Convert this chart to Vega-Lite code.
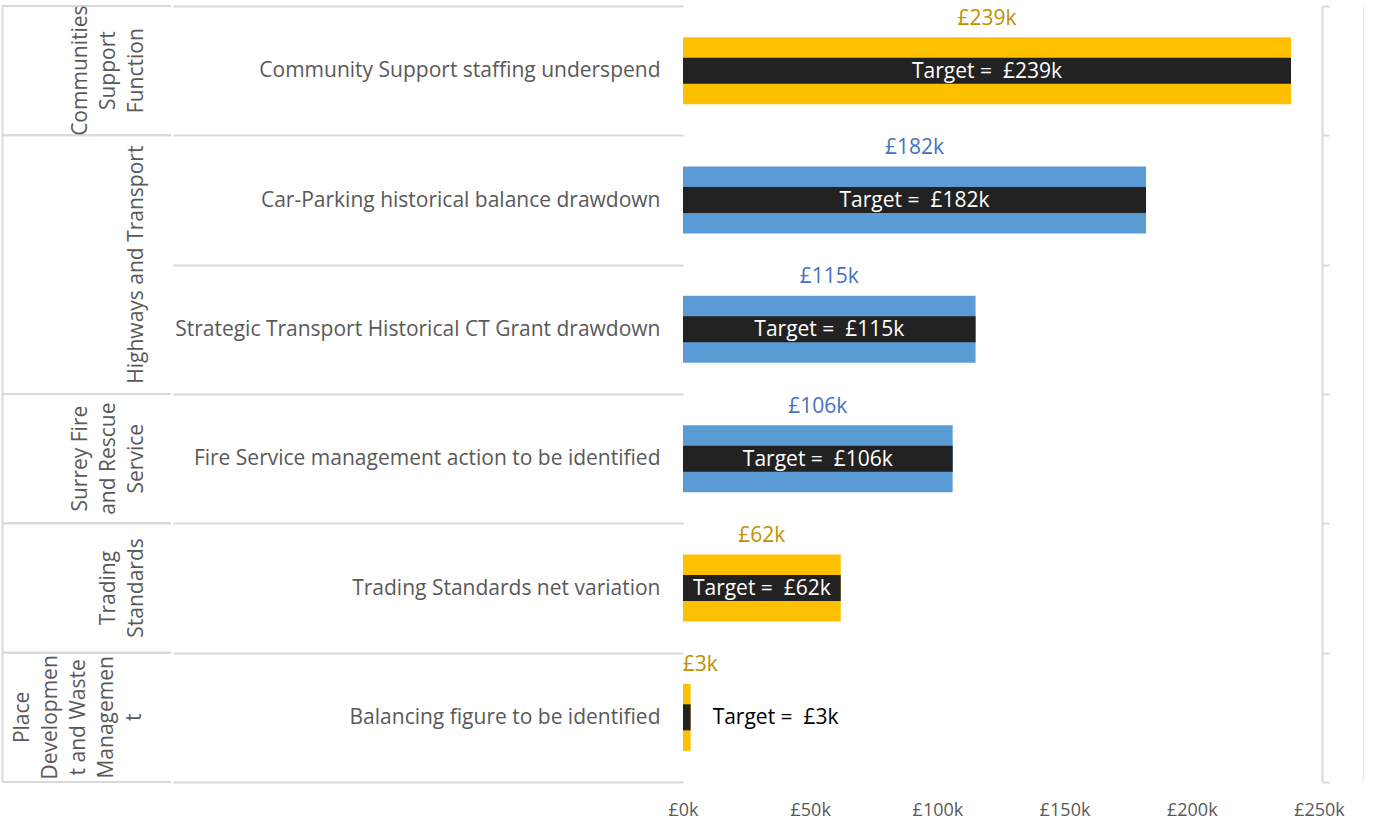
{
  "$schema": "https://vega.github.io/schema/vega-lite/v6.json",
  "padding": {"left": 1, "top": -5, "right": 0, "bottom": 0},
  "background": "white",
  "spacing": 0,
  "config": {
    "font": "Open Sans",
    "view": {"stroke": null}
  },
  "datasets": {
    "rows": [
      {"group": "Communities Support Function", "item": "Community Support staffing underspend", "value": 239000, "target": 239000, "status": "Amber"},
      {"group": "Highways and Transport", "item": "Car-Parking historical balance drawdown", "value": 182000, "target": 182000, "status": "Blue"},
      {"group": "Highways and Transport", "item": "Strategic Transport Historical CT Grant drawdown", "value": 115000, "target": 115000, "status": "Blue"},
      {"group": "Surrey Fire and Rescue Service", "item": "Fire Service management action to be identified", "value": 106000, "target": 106000, "status": "Blue"},
      {"group": "Trading Standards", "item": "Trading Standards net variation", "value": 62000, "target": 62000, "status": "Amber"},
      {"group": "Place Development and Waste Management", "item": "Balancing figure to be identified", "value": 3000, "target": 3000, "status": "Amber"}
    ],
    "groups": [
      {"key": "C", "group": "Communities\nSupport\nFunction", "first": "Community Support staffing underspend", "last": "Community Support staffing underspend"},
      {"key": "H", "group": "Highways and Transport", "first": "Car-Parking historical balance drawdown", "last": "Strategic Transport Historical CT Grant drawdown"},
      {"key": "S", "group": "Surrey Fire\nand Rescue\nService", "first": "Fire Service management action to be identified", "last": "Fire Service management action to be identified"},
      {"key": "T", "group": "Trading\nStandards", "first": "Trading Standards net variation", "last": "Trading Standards net variation"},
      {"key": "P", "group": "Place\nDevelopmen\nt and Waste\nManagemen\nt", "first": "Balancing figure to be identified", "last": "Balancing figure to be identified"}
    ]
  },
  "hconcat": [
    {
      "width": 169,
      "height": 776,
      "data": {"name": "groups"},
      "layer": [
        {
          "mark": {"type": "rule", "color": "#D9D9D9", "strokeWidth": 2},
          "encoding": {
            "y": {"field": "first", "type": "nominal", "bandPosition": 0,
              "scale": {"domain": ["Community Support staffing underspend", "Car-Parking historical balance drawdown", "Strategic Transport Historical CT Grant drawdown", "Fire Service management action to be identified", "Trading Standards net variation", "Balancing figure to be identified"], "paddingInner": 0, "paddingOuter": 0},
              "axis": {"title": null, "labels": false, "ticks": false, "grid": false, "domain": true, "domainColor": "#D9D9D9", "domainWidth": 2, "minExtent": 0}}
          }
        },
        {
          "mark": {"type": "rule", "color": "#D9D9D9", "strokeWidth": 2},
          "encoding": {
            "y": {"field": "last", "type": "nominal", "bandPosition": 1,
              "axis": {"title": null, "labels": false, "ticks": false, "grid": false, "domain": true, "domainColor": "#D9D9D9", "domainWidth": 2, "minExtent": 0}}
          }
        },
        {
          "transform": [{"filter": "datum.key === 'C' || datum.key === 'S'"}],
          "mark": {"type": "text", "angle": 270, "align": "center", "baseline": "alphabetic", "dy": 0.5, "fontSize": 21, "lineHeight": 28, "lineBreak": "\n", "color": "#595959", "clip": true},
          "encoding": {
            "y": {"field": "first", "type": "nominal", "bandPosition": 0.5,
              "axis": {"title": null, "labels": false, "ticks": false, "grid": false, "domain": true, "domainColor": "#D9D9D9", "domainWidth": 2, "minExtent": 0}},
            "text": {"field": "group", "type": "nominal"}
          }
        },
        {
          "transform": [{"filter": "datum.key === 'T'"}],
          "mark": {"type": "text", "angle": 270, "align": "center", "baseline": "alphabetic", "dy": 28, "fontSize": 21, "lineHeight": 28, "lineBreak": "\n", "color": "#595959", "clip": true},
          "encoding": {
            "y": {"field": "first", "type": "nominal", "bandPosition": 0.5,
              "axis": {"title": null, "labels": false, "ticks": false, "grid": false, "domain": true, "domainColor": "#D9D9D9", "domainWidth": 2, "minExtent": 0}},
            "text": {"field": "group", "type": "nominal"}
          }
        },
        {
          "transform": [{"filter": "datum.key === 'P'"}],
          "mark": {"type": "text", "angle": 270, "align": "center", "baseline": "alphabetic", "dy": -58, "fontSize": 21, "lineHeight": 28, "lineBreak": "\n", "color": "#595959", "clip": true},
          "encoding": {
            "y": {"field": "first", "type": "nominal", "bandPosition": 0.5,
              "axis": {"title": null, "labels": false, "ticks": false, "grid": false, "domain": true, "domainColor": "#D9D9D9", "domainWidth": 2, "minExtent": 0}},
            "text": {"field": "group", "type": "nominal"}
          }
        },
        {
          "transform": [{"filter": "datum.key === 'H'"}],
          "mark": {"type": "text", "angle": 270, "align": "center", "baseline": "alphabetic", "dy": 56, "fontSize": 21, "lineHeight": 28, "lineBreak": "\n", "color": "#595959", "clip": true},
          "encoding": {
            "y": {"field": "last", "type": "nominal", "bandPosition": 0,
              "axis": {"title": null, "labels": false, "ticks": false, "grid": false, "domain": true, "domainColor": "#D9D9D9", "domainWidth": 2, "minExtent": 0}},
            "text": {"field": "group", "type": "nominal"}
          }
        }
      ]
    },
    {
      "width": 636,
      "height": 776,
      "data": {"name": "rows"},
      "transform": [
        {"calculate": "'£' + format(datum.value, '~s')", "as": "value_label"},
        {"calculate": "'Target =\u00a0 £' + format(datum.target, '~s')", "as": "target_label"}
      ],
      "resolve": {"scale": {"x": "independent"}, "axis": {"y": "independent", "x": "independent"}},
      "layer": [
        {
          "mark": {"type": "bar", "size": 67},
          "encoding": {
            "y": {"field": "item", "type": "nominal", "sort": null,
              "scale": {"paddingInner": 0, "paddingOuter": 0},
              "axis": {"title": null, "orient": "left", "domain": false, "grid": false, "ticks": true, "tickBand": "extent", "tickSize": 510, "tickColor": "#D9D9D9", "tickWidth": 2, "labelPadding": -487, "labelFontSize": 21, "labelColor": "#595959", "labelLimit": 600, "labelAlign": "right", "labelBaseline": "middle"}},
            "x": {"field": "value", "type": "quantitative", "scale": {"domain": [0, 250000], "nice": false},
              "axis": {"title": null, "domain": false, "ticks": false, "grid": false, "values": [0, 50000, 100000, 150000, 200000, 250000], "labelExpr": "'£' + datum.value / 1000 + 'k'", "labelFontSize": 18, "labelColor": "#595959", "labelPadding": 19, "labelFlush": false}},
            "color": {"field": "status", "type": "nominal", "scale": {"domain": ["Amber", "Blue"], "range": ["#FFC000", "#5B9BD5"]}, "legend": null}
          }
        },
        {
          "mark": {"type": "bar", "size": 26, "color": "#222222"},
          "encoding": {
            "y": {"field": "item", "type": "nominal", "sort": null,
              "axis": {"title": null, "orient": "right", "labels": false, "grid": false, "domain": true, "domainColor": "#D9D9D9", "domainWidth": 2, "ticks": true, "tickBand": "extent", "tickSize": 7, "tickColor": "#D9D9D9", "tickWidth": 2, "offset": 3}},
            "x": {"field": "target", "type": "quantitative", "scale": {"domain": [0, 250000], "nice": false}, "axis": null}
          }
        },
        {
          "transform": [{"filter": "datum.value >= 20000"}],
          "mark": {"type": "text", "align": "center", "baseline": "alphabetic", "dy": -46, "fontSize": 21},
          "encoding": {
            "y": {"field": "item", "type": "nominal", "sort": null,
              "axis": {"title": null, "orient": "right", "labels": false, "grid": false, "domain": true, "domainColor": "#D9D9D9", "domainWidth": 2, "ticks": false, "offset": 45}},
            "x": {"field": "value", "type": "quantitative", "scale": {"domain": [0, 500000], "nice": false}, "axis": null},
            "fill": {"field": "status", "type": "nominal", "scale": {"domain": ["Amber", "Blue"], "range": ["#BF9000", "#4472C4"]}, "legend": null},
            "text": {"field": "value_label", "type": "nominal"}
          }
        },
        {
          "transform": [{"filter": "datum.value < 20000"}],
          "mark": {"type": "text", "align": "left", "baseline": "alphabetic", "dy": -46, "dx": -4, "fontSize": 21},
          "encoding": {
            "y": {"field": "item", "type": "nominal", "sort": null, "axis": null},
            "x": {"field": "value", "type": "quantitative", "scale": {"domain": [0, 500000], "nice": false}, "axis": null},
            "fill": {"field": "status", "type": "nominal", "scale": {"domain": ["Amber", "Blue"], "range": ["#BF9000", "#4472C4"]}, "legend": null},
            "text": {"field": "value_label", "type": "nominal"}
          }
        },
        {
          "transform": [{"filter": "datum.target >= 20000"}],
          "mark": {"type": "text", "align": "center", "baseline": "middle", "dy": 1, "fontSize": 21, "color": "#FFFFFF"},
          "encoding": {
            "y": {"field": "item", "type": "nominal", "sort": null, "axis": null},
            "x": {"field": "target", "type": "quantitative", "scale": {"domain": [0, 500000], "nice": false}, "axis": null},
            "text": {"field": "target_label", "type": "nominal"}
          }
        },
        {
          "transform": [{"filter": "datum.target < 20000"}],
          "mark": {"type": "text", "align": "left", "baseline": "middle", "dy": 1, "dx": 22, "fontSize": 21, "color": "#000000"},
          "encoding": {
            "y": {"field": "item", "type": "nominal", "sort": null, "axis": null},
            "x": {"field": "target", "type": "quantitative", "scale": {"domain": [0, 250000], "nice": false}, "axis": null},
            "text": {"field": "target_label", "type": "nominal"}
          }
        }
      ]
    }
  ]
}
